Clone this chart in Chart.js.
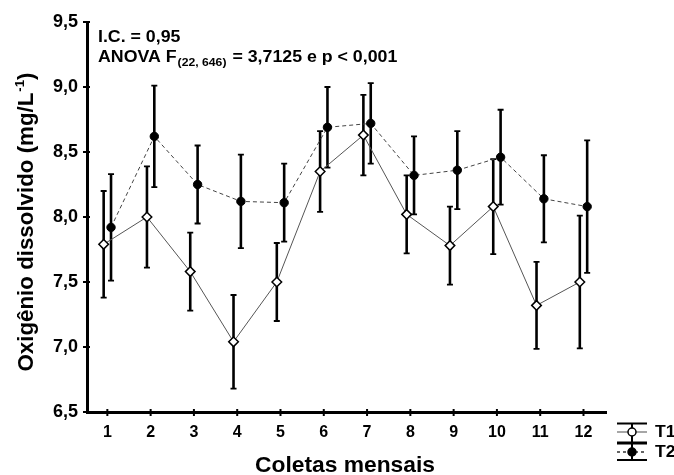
<!DOCTYPE html>
<html><head><meta charset="utf-8">
<script src="https://cdn.jsdelivr.net/npm/chart.js@4.4.1/dist/chart.umd.min.js"></script>
<style>html,body{margin:0;padding:0;background:#fff}#wrap{width:674px;height:475px;position:relative}</style>
</head><body><div id="wrap"><canvas id="c"></canvas></div>
<script>
// ---- data ----
const categories = [1, 2, 3, 4, 5, 6, 7, 8, 9, 10, 11, 12];
const t1Mean = [7.79, 8.00, 7.58, 7.04, 7.50, 8.35, 8.63, 8.02, 7.78, 8.08, 7.32, 7.50];
const t2Mean = [7.92, 8.62, 8.25, 8.12, 8.11, 8.69, 8.72, 8.32, 8.36, 8.46, 8.14, 8.08];
const t1Ci = [0.41, 0.39, 0.30, 0.36, 0.30, 0.31, 0.31, 0.30, 0.30, 0.365, 0.335, 0.51];
const t2Ci = [0.41, 0.39, 0.30, 0.36, 0.30, 0.31, 0.31, 0.30, 0.30, 0.365, 0.335, 0.51];
const yTicks = [6.5, 7.0, 7.5, 8.0, 8.5, 9.0, 9.5];
const seriesNames = ['T1', 'T2'];
const xTitle = 'Coletas mensais';
const yTitleMain = 'Oxigênio dissolvido (mg/L';
const yTitleSup = '-1';
const yTitleEnd = ')';
const note1 = 'I.C. = 0,95';
const note2a = 'ANOVA F';
const note2sub = '(22, 646)';
const note2b = ' = 3,7125 e p < 0,001';

// ---- styles ----
const FONT = "'Liberation Sans', Arial, sans-serif";
const dodge = 0.085;

function mkData(means, cis, sign) {
  return categories.map((c, i) => ({ x: c + sign * dodge, y: means[i], ci: cis[i] }));
}

const errorBars = {
  id: 'errorBars',
  beforeDatasetsDraw(chart) {
    const { ctx, scales: { x, y } } = chart;
    ctx.save();
    ctx.strokeStyle = '#000';
    chart.data.datasets.forEach(d => {
      d.data.forEach(p => {
        const px = x.getPixelForValue(p.x);
        const top = y.getPixelForValue(p.y + p.ci);
        const bot = y.getPixelForValue(p.y - p.ci);
        ctx.lineWidth = 2.6;
        ctx.beginPath(); ctx.moveTo(px, top); ctx.lineTo(px, bot); ctx.stroke();
        ctx.lineWidth = 1.8;
        ctx.beginPath();
        ctx.moveTo(px - 3, top); ctx.lineTo(px + 3, top);
        ctx.moveTo(px - 3, bot); ctx.lineTo(px + 3, bot);
        ctx.stroke();
      });
    });
    ctx.restore();
  }
};

function drawStretched(ctx, text, x, y, sx) {
  ctx.save(); ctx.translate(x, y); ctx.scale(sx, 1); ctx.fillText(text, 0, 0); ctx.restore();
  return ctx.measureText(text).width * sx;
}

const decorations = {
  id: 'decorations',
  afterDraw(chart) {
    const { ctx, scales: { x, y } } = chart;
    ctx.save();
    // tick crosses
    ctx.strokeStyle = '#000'; ctx.lineWidth = 2;
    y.ticks.forEach(t => {
      const py = y.getPixelForValue(t.value);
      ctx.beginPath(); ctx.moveTo(x.left - 4, py); ctx.lineTo(x.left + 3, py); ctx.stroke();
    });
    x.ticks.forEach(t => {
      const px = x.getPixelForValue(t.value);
      ctx.beginPath(); ctx.moveTo(px, y.bottom - 3); ctx.lineTo(px, y.bottom + 4); ctx.stroke();
    });

    ctx.fillStyle = '#000';
    ctx.textBaseline = 'alphabetic';
    // annotation
    const sx = 1.11;
    ctx.font = 'bold 16px ' + FONT;
    drawStretched(ctx, note1, 98, 42, sx);
    let cx = 98;
    cx += drawStretched(ctx, note2a, cx, 62, sx);
    ctx.font = 'bold 11px ' + FONT;
    cx += drawStretched(ctx, note2sub, cx + 1, 66, sx) + 2;
    ctx.font = 'bold 16px ' + FONT;
    drawStretched(ctx, note2b, cx, 62, sx);

    // x title
    ctx.font = 'bold 22px ' + FONT;
    const xw = ctx.measureText(xTitle).width;
    const xsx = 180 / xw;
    drawStretched(ctx, xTitle, 345 - 90, 472, xsx);

    // y title (rotated)
    ctx.save();
    ctx.translate(33, 222);
    ctx.rotate(-Math.PI / 2);
    ctx.font = 'bold 22px ' + FONT;
    const w1 = ctx.measureText(yTitleMain).width;
    const w3 = ctx.measureText(yTitleEnd).width;
    ctx.font = 'bold 13px ' + FONT;
    const w2 = ctx.measureText(yTitleSup).width;
    const total = w1 + w2 + w3 + 1;
    const ysx = 299 / total;
    let tx = -total * ysx / 2;
    ctx.font = 'bold 22px ' + FONT;
    tx += drawStretched(ctx, yTitleMain, tx, 0, ysx);
    ctx.font = 'bold 13px ' + FONT;
    tx += drawStretched(ctx, yTitleSup, tx + 1, -9, ysx) + 1;
    ctx.font = 'bold 22px ' + FONT;
    drawStretched(ctx, yTitleEnd, tx, 0, ysx);
    ctx.restore();

    // legend
    const lx0 = 617, lx1 = 647, mx = 632;
    const rows = [
      { top: 423.5, mid: 432, bot: 442.5, dash: [], lineColor: '#888', fill: '#fff' },
      { top: 443.5, mid: 452, bot: 460, dash: [3, 3], lineColor: '#333', fill: '#000' }
    ];
    rows.forEach((r, i) => {
      ctx.strokeStyle = '#000'; ctx.lineWidth = 2; ctx.setLineDash([]);
      ctx.beginPath();
      ctx.moveTo(lx0, r.top); ctx.lineTo(lx1, r.top);
      ctx.moveTo(lx0, r.bot); ctx.lineTo(lx1, r.bot);
      ctx.moveTo(mx, r.top); ctx.lineTo(mx, r.bot);
      ctx.stroke();
      ctx.strokeStyle = r.lineColor; ctx.lineWidth = 1.5; ctx.setLineDash(r.dash);
      ctx.beginPath(); ctx.moveTo(lx0, r.mid); ctx.lineTo(lx1, r.mid); ctx.stroke();
      ctx.setLineDash([]);
      ctx.fillStyle = r.fill; ctx.strokeStyle = '#000'; ctx.lineWidth = 1.5;
      ctx.beginPath(); ctx.arc(mx, r.mid, 4, 0, Math.PI * 2); ctx.fill(); ctx.stroke();
      ctx.fillStyle = '#000';
      ctx.font = 'bold 16px ' + FONT;
      ctx.textBaseline = 'middle';
      drawStretched(ctx, seriesNames[i], 655, r.mid + 1, 1.1);
      ctx.textBaseline = 'alphabetic';
    });
    ctx.restore();
  }
};

const fmt = v => v.toFixed(1).replace('.', ',');

new Chart(document.getElementById('c'), {
  type: 'line',
  data: {
    datasets: [
      {
        label: seriesNames[0],
        data: mkData(t1Mean, t1Ci, -1),
        borderColor: '#555', borderWidth: 1,
        pointStyle: 'rectRot', pointRadius: 4.8, pointBorderWidth: 1.5,
        pointBackgroundColor: '#fff', pointBorderColor: '#000',
        tension: 0, fill: false
      },
      {
        label: seriesNames[1],
        data: mkData(t2Mean, t2Ci, 1),
        borderColor: '#444', borderWidth: 1, borderDash: [4, 3],
        pointStyle: 'circle', pointRadius: 4.2, pointBorderWidth: 1,
        pointBackgroundColor: '#000', pointBorderColor: '#000',
        tension: 0, fill: false
      }
    ]
  },
  options: {
    responsive: true, maintainAspectRatio: false, animation: false,
    layout: { padding: { top: 22, right: 68, left: 0, bottom: 0 } },
    plugins: { legend: { display: false }, tooltip: { enabled: false } },
    scales: {
      x: {
        type: 'linear', min: 0.53, max: 12.52,
        afterBuildTicks: s => { s.ticks = categories.map(v => ({ value: v })); },
        afterFit: s => { s.height = 63; },
        grid: { display: false, drawTicks: false },
        border: { display: true, color: '#000', width: 3 },
        ticks: { color: '#000', font: { family: FONT, size: 16, weight: 'bold' }, padding: 11, callback: v => String(v) , maxRotation: 0, autoSkip: false}
      },
      y: {
        type: 'linear', min: 6.5, max: 9.5,
        afterBuildTicks: s => { s.ticks = yTicks.map(v => ({ value: v })); },
        afterFit: s => { s.width = 87; },
        grid: { display: false, drawTicks: false },
        border: { display: true, color: '#000', width: 3 },
        ticks: { color: '#000', font: { family: FONT, size: 18, weight: 'bold' }, padding: 9, callback: v => fmt(v) }
      }
    }
  },
  plugins: [errorBars, decorations]
});
</script>
</body></html>
